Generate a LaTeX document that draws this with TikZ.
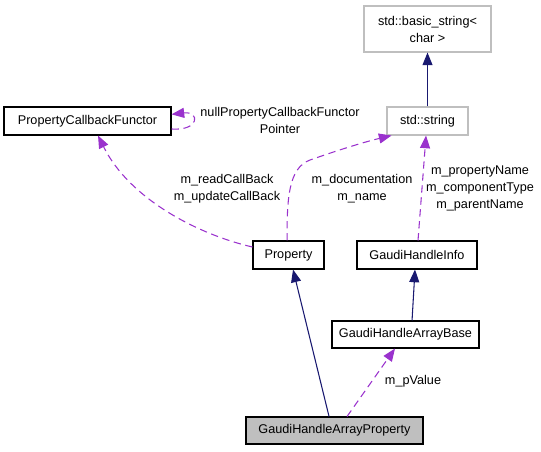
\documentclass[tikz,border=0pt]{standalone}
\usepackage{fontspec}
\setmainfont{Liberation Sans}
\usetikzlibrary{arrows.meta}
\definecolor{edgeblue}{HTML}{191970}
\definecolor{edgepurple}{HTML}{9A32CD}
\definecolor{boxgray}{HTML}{BFBFBF}
\begin{document}
\begin{tikzpicture}[x=0.75pt,y=-0.75pt,
  font=\fontsize{9.5pt}{12.75pt}\selectfont,
  box/.style={draw=black,line width=0.8pt,rectangle,inner sep=0pt,minimum height=21pt,align=center},
  extbox/.style={box,draw=boxgray},
  inh/.style={draw=edgeblue,line width=0.8pt,-{Triangle[length=9.5pt,width=7.5pt]}},
  use/.style={draw=edgepurple,line width=0.8pt,dash pattern=on 5.5pt off 3.5pt,-{Triangle[length=9.5pt,width=7.5pt]}},
  lbl/.style={align=center,inner sep=0pt}]
\useasboundingbox (0,0) rectangle (541,451);
\node[extbox,minimum width=95.25pt,minimum height=34.5pt] (bs) at (427.5,29) {std::basic\_string<\\char >};
\node[extbox,minimum width=60.75pt] (str) at (427.5,121) {std::string};
\node[box,minimum width=125.25pt] (pcf) at (87.5,121) {PropertyCallbackFunctor};
\node[box,minimum width=53.25pt] (prop) at (288.5,255) {Property};
\node[box,minimum width=90pt] (ghi) at (417,255) {GaudiHandleInfo};
\node[box,minimum width=110.25pt,minimum height=20.25pt] (ghab) at (405.5,334.5) {GaudiHandleArrayBase};
\node[box,fill=boxgray,minimum width=132.75pt,minimum height=20.25pt] (ghap) at (334.5,430.5) {GaudiHandleArrayProperty};

\draw[inh] (str.north) -- (bs.south);
\draw[inh] ([xshift=-4.1pt]ghap.north) -- ([xshift=3.4pt]prop.south);
\draw[inh] ([xshift=4.9pt]ghab.north) -- ([xshift=-1.5pt]ghi.south);
\draw[use] ([xshift=9.4pt]ghap.north) -- ([xshift=-7.9pt]ghab.south);
\draw[use] ([xshift=0.75pt]ghi.north) -- ([xshift=-1.1pt]str.south);
\draw[use] ([xshift=-1.1pt]prop.north) .. controls (287,200) and (288,168) .. (310,160)
  .. controls (330,153) and (360,143) .. ([xshift=3.8pt]str.south west);
\draw[use] ([yshift=6pt]prop.west) .. controls (200,235) and (130,200) .. ([xshift=7.9pt]pcf.south);
\draw[use] ([yshift=-6pt]pcf.east) .. controls (200,131) and (200,111) .. ([yshift=5pt]pcf.east);

\node[lbl] (lpv) at (413,381.5) {m\_pValue};
\node[lbl] (lnull) at (280,120) {nullPropertyCallbackFunctor\\Pointer};
\node[lbl] (lcb) at (227,188.5) {m\_readCallBack\\m\_updateCallBack};
\node[lbl] (ldoc) at (362,188.5) {m\_documentation\\m\_name};
\node[lbl] (lpn) at (480,188) {m\_propertyName\\m\_componentType\\m\_parentName};
\end{tikzpicture}
\end{document}
